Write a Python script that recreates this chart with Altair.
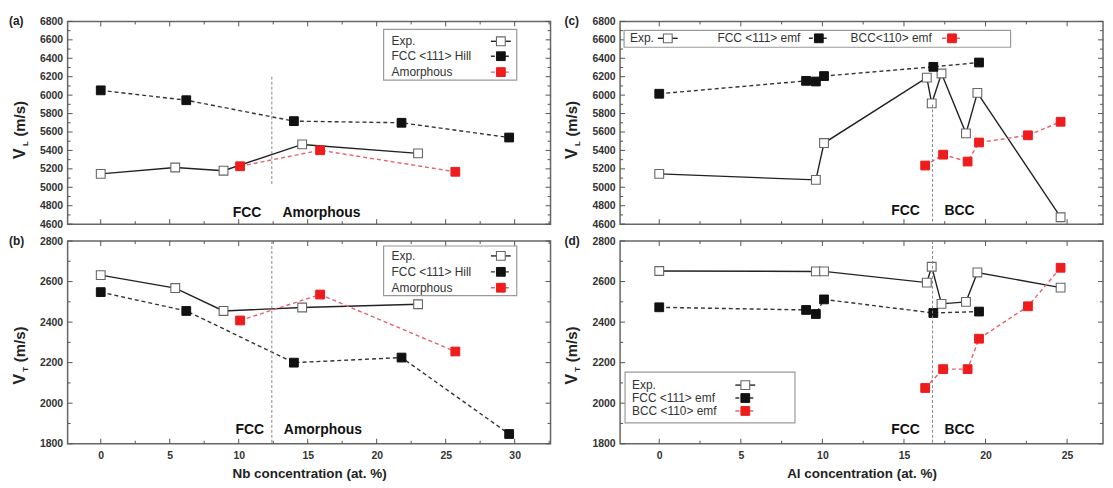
import altair as alt
import pandas as pd

FONT = "Liberation Sans"

# ---------------- data ----------------
# (a) V_L vs Nb concentration
A_EXP_X = [0, 5.4, 8.9, 14.6, 23.0]
A_EXP_Y = [5145, 5215, 5180, 5465, 5368]
A_FCC_X = [0, 6.2, 14.0, 21.8, 29.6]
A_FCC_Y = [6052, 5945, 5718, 5700, 5540]
A_AMO_X = [10.1, 15.9, 25.7]
A_AMO_Y = [5228, 5402, 5168]
# (b) V_T vs Nb concentration
B_EXP_X = [0, 5.4, 8.9, 14.6, 23.0]
B_EXP_Y = [2632, 2568, 2455, 2472, 2488]
B_FCC_X = [0, 6.2, 14.0, 21.8, 29.6]
B_FCC_Y = [2548, 2455, 2200, 2225, 1848]
B_AMO_X = [10.1, 15.9, 25.7]
B_AMO_Y = [2408, 2536, 2255]
# (c) V_L vs Al concentration
C_EXP_X = [0, 9.6, 10.1, 16.4, 16.7, 17.3, 18.8, 19.5, 24.6]
C_EXP_Y = [5145, 5080, 5480, 6190, 5910, 6235, 5585, 6025, 4675]
C_FCC_X = [0, 9.0, 9.6, 10.1, 16.8, 19.6]
C_FCC_Y = [6015, 6155, 6148, 6207, 6307, 6354]
C_BCC_X = [16.3, 17.4, 18.9, 19.6, 22.6, 24.6]
C_BCC_Y = [5236, 5354, 5279, 5486, 5564, 5711]
# (d) V_T vs Al concentration
D_EXP_X = [0, 9.6, 10.1, 16.4, 16.7, 17.3, 18.8, 19.5, 24.6]
D_EXP_Y = [2652, 2650, 2650, 2595, 2673, 2490, 2500, 2645, 2570]
D_FCC_X = [0, 9.0, 9.6, 10.1, 16.8, 19.6]
D_FCC_Y = [2473, 2460, 2440, 2512, 2445, 2452]
D_BCC_X = [16.3, 17.4, 18.9, 19.6, 22.6, 24.6]
D_BCC_Y = [2075, 2168, 2168, 2318, 2478, 2668]

# axis tick values
NB_MAJOR = [0, 5, 10, 15, 20, 25, 30]
NB_MINOR = [2.5, 7.5, 12.5, 17.5, 22.5, 27.5, 32.5]
AL_MAJOR = [0, 5, 10, 15, 20, 25]
AL_MINOR = [2.5, 7.5, 12.5, 17.5, 22.5]
VL_MAJOR = [4600, 4800, 5000, 5200, 5400, 5600, 5800, 6000, 6200, 6400, 6600, 6800]
VL_MINOR = [4700, 4900, 5100, 5300, 5500, 5700, 5900, 6100, 6300, 6500, 6700]
VT_MAJOR = [1800, 2000, 2200, 2400, 2600, 2800]
VT_MINOR = [1900, 2100, 2300, 2500, 2700]

W, H = 486, 204
ONE = pd.DataFrame({"k": [0]})
PT_SIZE = 78

STYLES = {
    "exp": dict(line=dict(color="#222", strokeWidth=1.4),
                pt=dict(fill="white", stroke="#666", strokeWidth=1.1)),
    "fcc": dict(line=dict(color="#333", strokeWidth=1.4, strokeDash=[4, 3]),
                pt=dict(fill="#111", stroke="#111", strokeWidth=1)),
    "red": dict(line=dict(color="#e4606a", strokeWidth=1.4, strokeDash=[4, 3]),
                pt=dict(fill="#ee1c1c", stroke="#ee1c1c", strokeWidth=1)),
}


def make_axes(xmaj, ymaj, bottom, xtitle):
    yax = alt.Axis(values=ymaj, title=None, grid=False, ticks=False, domain=False,
                   labelFont=FONT, labelFontSize=10.5, labelFontWeight="bold", labelColor="#333",
                   labelPadding=5, format="d")
    if bottom:
        xax = alt.Axis(values=xmaj, title=xtitle, grid=False, ticks=False, domain=False,
                       labelFont=FONT, labelFontSize=10.5, labelFontWeight="bold", labelColor="#333",
                       labelPadding=7, titleFont=FONT, titleFontSize=13.5, titleFontWeight="bold",
                       titleColor="#222", titlePadding=5, format="d")
    else:
        xax = alt.Axis(values=xmaj, labels=False, title=None, grid=False, ticks=False, domain=False)
    return xax, yax


def series(xs, ys, kind, X, Y):
    df = pd.DataFrame({"x": xs, "y": ys})
    base = alt.Chart(df).encode(x=X("x:Q"), y=Y("y:Q"))
    st = STYLES[kind]
    line = base.mark_line(**st["line"])
    pts = base.mark_point(shape="square", size=PT_SIZE, filled=True, opacity=1, **st["pt"])
    return [line, pts]


def tick_layers(xmaj, xmin, ymaj, ymin, X, Y):
    layers = []
    for vals, L in ((xmaj, 5), (xmin, 3)):
        df = pd.DataFrame({"v": vals})
        b = alt.Chart(df).mark_rule(color="#555", strokeWidth=1)
        layers.append(b.encode(x=X("v:Q"), y=alt.value(H), y2=alt.value(H - L)))
        layers.append(b.encode(x=X("v:Q"), y=alt.value(0), y2=alt.value(L)))
    for vals, L in ((ymaj, 5), (ymin, 3)):
        df = pd.DataFrame({"v": vals})
        b = alt.Chart(df).mark_rule(color="#555", strokeWidth=1)
        layers.append(b.encode(y=Y("v:Q"), x=alt.value(0), x2=alt.value(L)))
        layers.append(b.encode(y=Y("v:Q"), x=alt.value(W - L), x2=alt.value(W)))
    return layers


def legend_layers(box, entries, fsize=12):
    x1, y1, x2, y2 = box
    layers = [alt.Chart(ONE).mark_rect(fill="white", stroke="#9a9a9a", strokeWidth=1.2).encode(
        x=alt.value(x1), x2=alt.value(x2), y=alt.value(y1), y2=alt.value(y2))]
    for label, tx, ty, sx, kind in entries:
        st = STYLES[kind]
        layers.append(alt.Chart(ONE).mark_text(text=label, align="left", baseline="middle", font=FONT,
                                               fontSize=fsize, color="#333").encode(
            x=alt.value(tx), y=alt.value(ty)))
        layers.append(alt.Chart(ONE).mark_rule(**st["line"]).encode(
            x=alt.value(sx - 10), x2=alt.value(sx + 10), y=alt.value(ty)))
        layers.append(alt.Chart(ONE).mark_point(shape="square", size=PT_SIZE, filled=True, opacity=1,
                                                **st["pt"]).encode(x=alt.value(sx), y=alt.value(ty)))
    return layers


def ytitle_layers(sub, base):
    return [
        alt.Chart(ONE).mark_text(text="V", angle=270, align="center", baseline="middle", font=FONT,
                                 fontSize=16, fontWeight="bold", color="#222").encode(
            x=alt.value(-48), y=alt.value(base + 23)),
        alt.Chart(ONE).mark_text(text=sub, angle=270, align="center", baseline="middle", font=FONT,
                                 fontSize=8, fontWeight="bold", color="#222").encode(
            x=alt.value(-42), y=alt.value(base + 13)),
        alt.Chart(ONE).mark_text(text="(m/s)", angle=270, align="center", baseline="middle", font=FONT,
                                 fontSize=15, fontWeight="bold", color="#222").encode(
            x=alt.value(-48), y=alt.value(base - 12)),
    ]


def annot(texts, xs, ys, X, Y):
    df = pd.DataFrame({"t": texts, "x": xs, "y": ys})
    return alt.Chart(df).mark_text(font=FONT, fontSize=14, fontWeight="bold", color="#111",
                                   baseline="middle", align="center").encode(
        x=X("x:Q"), y=Y("y:Q"), text="t:N")


def vline(x, y1, y2, X, Y):
    df = pd.DataFrame({"x": [x], "y1": [y1], "y2": [y2]})
    return alt.Chart(df).mark_rule(color="#888", strokeWidth=1, strokeDash=[3, 2]).encode(
        x=X("x:Q"), y=Y("y1:Q"), y2="y2:Q")


def panel_label(t, x):
    return alt.Chart(ONE).mark_text(text=t, align="left", baseline="middle", font=FONT, fontSize=12,
                                    fontWeight="bold", color="#222").encode(
        x=alt.value(x), y=alt.value(0))


xs_nb = [-2.4, 32.6]
xs_al = [-2.4, 27.2]
ys_vl = [4600, 6800]
ys_vt = [1800, 2800]


def build(xdom, ydom, xmaj, xmin, ymaj, ymin, bottom, xtitle, data, extra_fn):
    xax, yax = make_axes(xmaj, ymaj, bottom, xtitle)

    def X(f):
        return alt.X(f, scale=alt.Scale(domain=xdom, nice=False, zero=False), axis=xax)

    def Y(f):
        return alt.Y(f, scale=alt.Scale(domain=ydom, nice=False, zero=False), axis=yax)

    layers = []
    for xs, ys, kind in data:
        layers += series(xs, ys, kind, X, Y)
    layers += tick_layers(xmaj, xmin, ymaj, ymin, X, Y)
    layers += extra_fn(X, Y)
    return alt.layer(*layers).properties(width=W, height=H)


pa = build(xs_nb, ys_vl, NB_MAJOR, NB_MINOR, VL_MAJOR, VL_MINOR, False, None,
           [(A_EXP_X, A_EXP_Y, "exp"), (A_FCC_X, A_FCC_Y, "fcc"), (A_AMO_X, A_AMO_Y, "red")],
           lambda X, Y: [vline(12.4, 6200, 5020, X, Y),
                         annot(["FCC", "Amorphous"], [10.6, 16.0], [4720, 4720], X, Y),
                         *legend_layers((318, 8, 452, 59), [("Exp.", 326, 20, 436, "exp"),
                                                            ("FCC <111> Hill", 326, 35, 436, "fcc"),
                                                            ("Amorphous", 326, 51, 436, "red")]),
                         *ytitle_layers("L", 110), panel_label("(a)", -59)])

pb = build(xs_nb, ys_vt, NB_MAJOR, NB_MINOR, VT_MAJOR, VT_MINOR, True, "Nb concentration (at. %)",
           [(B_EXP_X, B_EXP_Y, "exp"), (B_FCC_X, B_FCC_Y, "fcc"), (B_AMO_X, B_AMO_Y, "red")],
           lambda X, Y: [vline(12.4, 2800, 1800, X, Y),
                         annot(["FCC", "Amorphous"], [10.8, 16.1], [1870, 1870], X, Y),
                         *legend_layers((318, 5, 452, 55), [("Exp.", 326, 15, 436, "exp"),
                                                            ("FCC <111> Hill", 326, 31, 436, "fcc"),
                                                            ("Amorphous", 326, 47, 436, "red")]),
                         *ytitle_layers("T", 116), panel_label("(b)", -59)])

pc = build(xs_al, ys_vl, AL_MAJOR, AL_MINOR, VL_MAJOR, VL_MINOR, False, None,
           [(C_EXP_X, C_EXP_Y, "exp"), (C_FCC_X, C_FCC_Y, "fcc"), (C_BCC_X, C_BCC_Y, "red")],
           lambda X, Y: [vline(16.75, 5900, 4600, X, Y),
                         annot(["FCC", "BCC"], [15.1, 18.4], [4740, 4740], X, Y),
                         *legend_layers((4, 9, 393, 26), [("Exp.", 10, 17, 48, "exp"),
                                                          ("FCC <111> emf", 98, 17, 200, "fcc"),
                                                          ("BCC<110> emf", 232, 17, 334, "red")]),
                         *ytitle_layers("L", 110), panel_label("(c)", -56)])

pd_ = build(xs_al, ys_vt, AL_MAJOR, AL_MINOR, VT_MAJOR, VT_MINOR, True, "Al concentration (at. %)",
            [(D_EXP_X, D_EXP_Y, "exp"), (D_FCC_X, D_FCC_Y, "fcc"), (D_BCC_X, D_BCC_Y, "red")],
            lambda X, Y: [vline(16.75, 2800, 1800, X, Y),
                          annot(["FCC", "BCC"], [15.1, 18.4], [1870, 1870], X, Y),
                          *legend_layers((5, 132, 176, 183), [("Exp.", 12, 145, 126, "exp"),
                                                              ("FCC <111> emf", 12, 158, 126, "fcc"),
                                                              ("BCC <110> emf", 12, 171, 126, "red")]),
                          *ytitle_layers("T", 116), panel_label("(d)", -56)])

chart = alt.concat(pa, pc, pb, pd_, columns=2, spacing={"row": 17, "column": 70}, bounds="flush").properties(
    padding={"left": 0, "top": 5, "right": 0, "bottom": 0},
    background="white",
).configure_view(stroke="#666", strokeWidth=1.5)

chart.save("out.html", embed_options={"renderer": "svg", "actions": False})
